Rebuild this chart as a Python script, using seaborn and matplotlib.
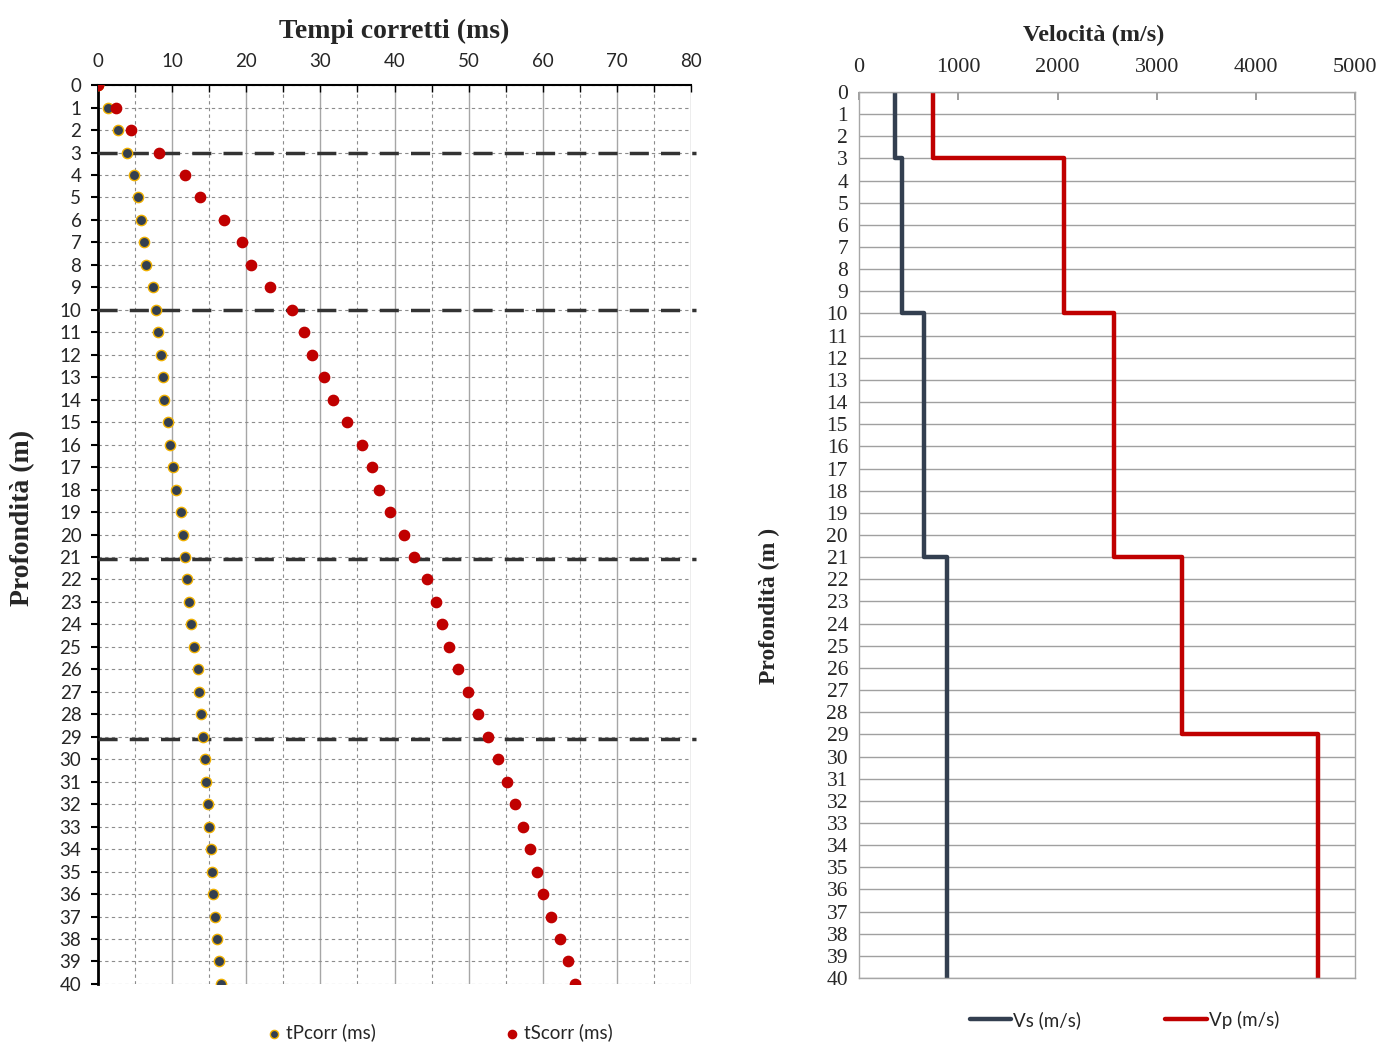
import matplotlib
matplotlib.use("Agg")
import matplotlib.pyplot as plt
from matplotlib.ticker import MultipleLocator
import numpy as np
import pandas as pd
import seaborn as sns

# Depth of each measurement (m)
depth = list(range(0, 41))

# Corrected P-wave arrival times (ms)
tp_corr = [0.00, 1.40, 2.75, 3.93, 4.88, 5.45, 5.78, 6.23, 6.46, 7.41,
           7.80, 8.03, 8.48, 8.70, 8.87, 9.38, 9.77, 10.05, 10.56, 11.23,
           11.51, 11.79, 12.02, 12.30, 12.58, 12.97, 13.42, 13.64, 13.92, 14.21,
           14.43, 14.54, 14.88, 14.99, 15.27, 15.38, 15.50, 15.78, 16.00, 16.28,
           16.56]

# Corrected S-wave arrival times (ms)
ts_corr = [0.00, 2.36, 4.44, 8.25, 11.79, 13.76, 16.96, 19.48, 20.66, 23.19,
           26.17, 27.85, 28.80, 30.54, 31.72, 33.63, 35.60, 36.95, 37.84, 39.42,
           41.27, 42.62, 44.36, 45.59, 46.38, 47.33, 48.51, 49.97, 51.32, 52.67,
           53.96, 55.14, 56.20, 57.33, 58.22, 59.18, 60.02, 61.15, 62.33, 63.39,
           64.35]

# Layer interfaces (m) and interval velocities (m/s)
layer_tops = [0, 3, 10, 21, 29]
layer_bottoms = [3, 10, 21, 29, 40]
vs_layers = [365, 435, 657, 883, 883]
vp_layers = [740, 2070, 2570, 3250, 4625]
interfaces = [3, 10, 21.1, 29.1]

# Axis ticks of the velocity panel
vel_ticks = [0, 1000, 2000, 3000, 4000, 5000]
depth_ticks = list(range(0, 41))

times = pd.DataFrame({"depth": depth, "tP": tp_corr, "tS": ts_corr})


def step_profile(tops, bottoms, values):
    z, v = [], []
    for t, b, val in zip(tops, bottoms, values):
        z += [t, b]
        v += [val, val]
    return pd.DataFrame({"depth": z, "vel": v})


vs_prof = step_profile(layer_tops, layer_bottoms, vs_layers)
vp_prof = step_profile(layer_tops, layer_bottoms, vp_layers)

sns.set_theme(style="white")
serif = ["Liberation Serif", "DejaVu Serif"]
sans = ["Lato", "DejaVu Sans"]
plt.rcParams["font.family"] = sans

NAVY = "#333F50"
RED = "#C00000"
fig = plt.figure(figsize=(13.79, 10.44), dpi=100)

# ---------------- travel times ----------------
ax1 = fig.add_axes([0.0711, 0.0575, 0.430, 0.861])
ax1.set_xlim(0, 80)
ax1.set_ylim(40, 0)
ax1.xaxis.set_major_locator(MultipleLocator(10))
ax1.xaxis.set_minor_locator(MultipleLocator(5))
ax1.yaxis.set_major_locator(MultipleLocator(1))
ax1.grid(False)
ax1.grid(which="major", axis="x", color="#A6A6A6", lw=1.0, ls="-")
ax1.grid(which="minor", axis="x", color="#8C8C8C", lw=0.8, ls=(0, (3, 3)))
ax1.grid(which="major", axis="y", color="#8C8C8C", lw=0.8, ls=(0, (3, 3)))
ax1.set_axisbelow(True)
for s in ["right", "bottom"]:
    ax1.spines[s].set_visible(False)
ax1.spines["left"].set_color("black")
ax1.spines["left"].set_linewidth(2.0)
ax1.spines["top"].set_color("black")
ax1.spines["top"].set_linewidth(1.5)
ax1.xaxis.tick_top()
ax1.tick_params(axis="x", which="both", direction="in", length=5, width=1,
                color="black", labelsize=13.5, pad=11, top=True, bottom=False)
ax1.tick_params(axis="y", which="major", direction="out", length=5, width=1.5,
                color="black", labelsize=13.5, pad=7, left=True)

for z in interfaces:
    ax1.plot([0, 80.7], [z, z], color="#333333", lw=2.5,
             ls=(0, (5.5, 3.5)), zorder=3, clip_on=False)

sns.scatterplot(data=times, x="tP", y="depth", ax=ax1, s=55, color=NAVY,
                edgecolor="#F0B000", linewidth=1.0, zorder=4, label="tPcorr (ms)",
                legend=False)
sns.scatterplot(data=times, x="tS", y="depth", ax=ax1, s=55, color=RED,
                edgecolor=RED, linewidth=1.0, zorder=4, label="tScorr (ms)",
                legend=False)
ax1.set_xlabel("")
ax1.set_ylabel("")
ax1.set_title("Tempi corretti (ms)", family=serif, fontsize=20,
              fontweight="bold", pad=34)
ax1.text(-0.128, 0.518, "Profondità (m)", transform=ax1.transAxes,
         rotation=90, ha="center", va="center", family=serif,
         fontsize=20, fontweight="bold")
h1, l1 = ax1.get_legend_handles_labels()
ax1.legend(h1, l1, loc="center", bbox_to_anchor=(0.576, -0.054), ncol=2,
           frameon=False, fontsize=13.5, handlelength=0.8, handletextpad=0.2,
           columnspacing=6.9, markerscale=0.8)

# ---------------- interval velocities ----------------
ax2 = fig.add_axes([0.623, 0.0632, 0.3597, 0.8487])
sns.lineplot(data=vs_prof, x="vel", y="depth", ax=ax2, sort=False,
             orient="y", color=NAVY, lw=3.2, label="Vs (m/s)", estimator=None)
sns.lineplot(data=vp_prof, x="vel", y="depth", ax=ax2, sort=False,
             orient="y", color=RED, lw=3.2, label="Vp (m/s)", estimator=None)
ax2.set_xlim(0, 5000)
ax2.set_ylim(40, 0)
ax2.set_xticks(vel_ticks)
ax2.set_xticklabels([str(v) for v in vel_ticks])
ax2.set_yticks(depth_ticks)
ax2.set_yticklabels([str(d) for d in depth_ticks])
ax2.grid(False)
ax2.grid(which="major", axis="y", color="#A0A0A0", lw=1.0)
ax2.set_axisbelow(True)
for s in ax2.spines.values():
    s.set_color("#A6A6A6")
    s.set_linewidth(1.0)
ax2.xaxis.tick_top()
ax2.tick_params(axis="x", direction="in", length=6, width=1.2, color="#8C8C8C",
                labelsize=16, pad=11, top=True, bottom=False)
ax2.tick_params(axis="y", length=0, labelsize=15.5, pad=8)
ax2.set_xlabel("")
ax2.set_ylabel("")
ax2.set_title("Velocità (m/s)", family=serif, fontsize=17.5,
              fontweight="bold", pad=37)
ax2.title.set_x(0.472)
ax2.text(-0.18, 0.42, "Profondità (m )", transform=ax2.transAxes,
         rotation=90, ha="center", va="center", family=serif,
         fontsize=17, fontweight="bold")
h2, l2 = ax2.get_legend_handles_labels()
ax2.legend(h2, l2, loc="center", bbox_to_anchor=(0.535, -0.047), ncol=2,
           frameon=False, fontsize=13.5, handlelength=2.2, handletextpad=0.1,
           columnspacing=4.5)

# Serif tick labels on the velocity panel (applied once the ticks exist)
fig.canvas.draw()
for lab in ax2.xaxis.get_ticklabels(which="both") + ax2.yaxis.get_ticklabels(which="both"):
    lab.set_fontfamily(serif)
for tick in ax2.xaxis.get_major_ticks() + ax2.yaxis.get_major_ticks():
    tick.label1.set_fontfamily(serif)
    tick.label2.set_fontfamily(serif)

fig.savefig("out.png", dpi=100)
